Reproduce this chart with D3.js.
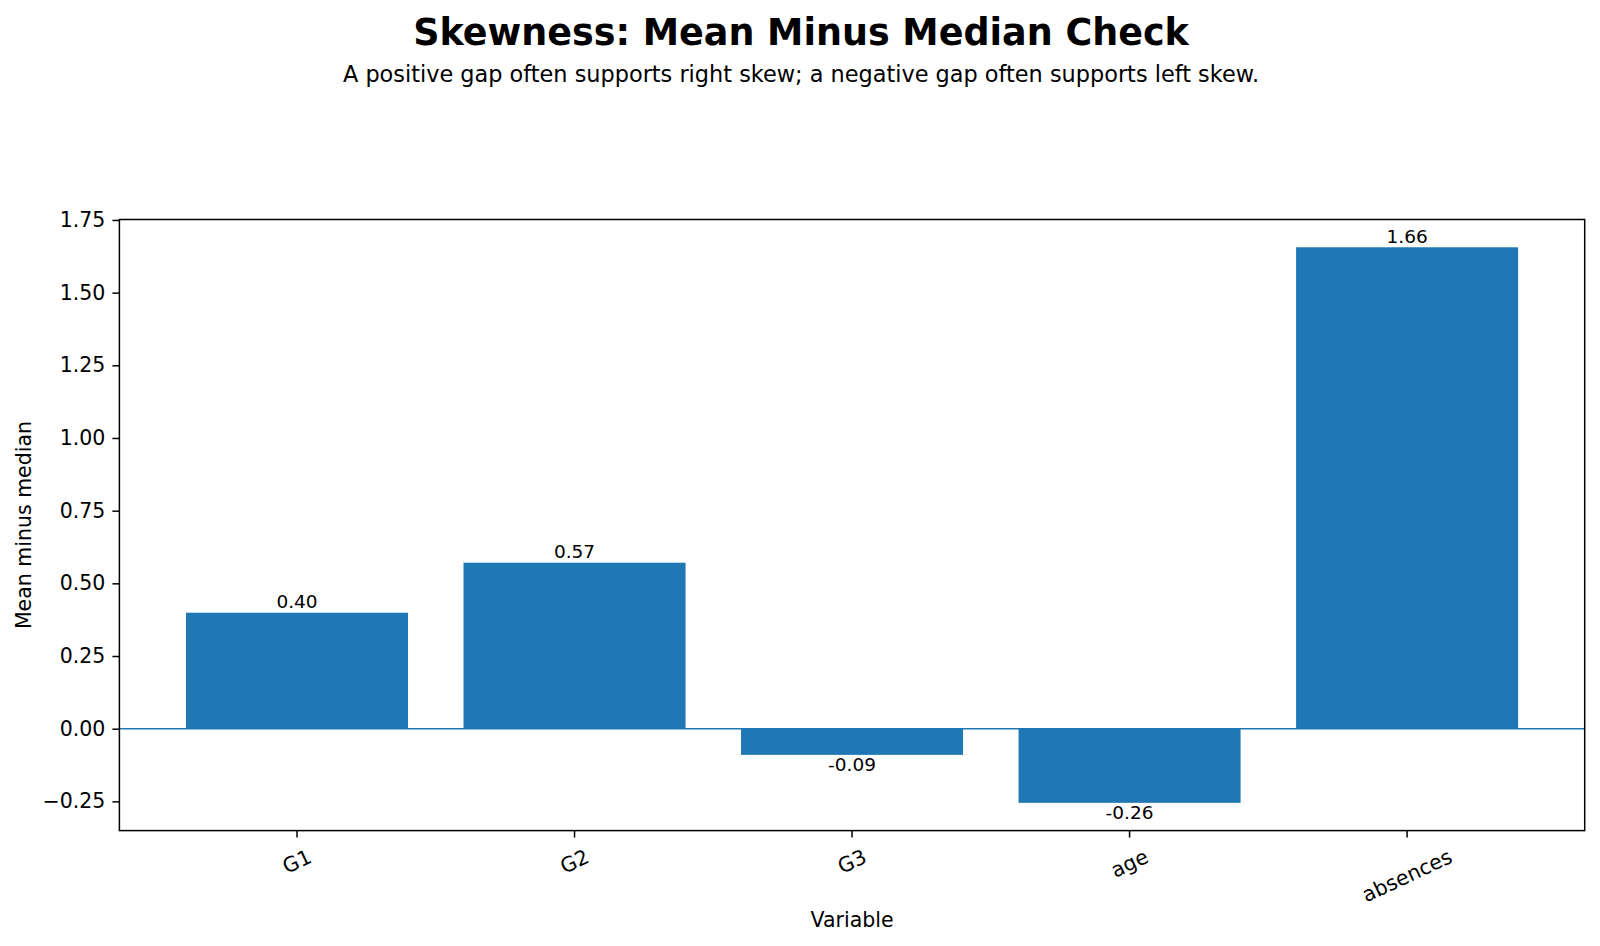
<!DOCTYPE html>
<html>
<head>
<meta charset="utf-8">
<script src="https://cdn.jsdelivr.net/npm/d3@7"></script>
<style>
  body { margin: 0; background: #fff; }
  text { font-family: "DejaVu Sans", sans-serif; fill: #000; }
</style>
</head>
<body>
<div id="chart"></div>
<script>
// data
let variables = ["G1", "G2", "G3", "age", "absences"]
let gaps = [0.399, 0.571, -0.090, -0.255, 1.656]
let yTicks = [-0.25, 0, 0.25, 0.5, 0.75, 1.0, 1.25, 1.5, 1.75]

let width = 1600,
  height = 946
let margin = { top: 219.5, right: 15.3, bottom: 115.4, left: 119.4 }
let iw = width - margin.left - margin.right,
  ih = height - margin.top - margin.bottom

let svg = d3.select("#chart").append("svg")
  .attr("width", width)
  .attr("height", height)

svg.append("text")
  .attr("x", width / 2 + 1).attr("y", 44.5)
  .attr("text-anchor", "middle")
  .style("font-size", "36.5px").style("font-weight", "bold")
  .text("Skewness: Mean Minus Median Check")

svg.append("text")
  .attr("x", width / 2 + 1).attr("y", 82)
  .attr("text-anchor", "middle")
  .style("font-size", "22.4px")
  .text("A positive gap often supports right skew; a negative gap often supports left skew.")

let g = svg.append("g").attr("transform", `translate(${margin.left},${margin.top})`)

// matplotlib-like 5% margins on the y data range
let lo = Math.min(0, d3.min(gaps)), hi = Math.max(0, d3.max(gaps))
let pad = (hi - lo) * 0.05

let x = d3.scaleBand()
  .domain(variables)
  .range([0, iw])
  .paddingInner(0.2)
  .paddingOuter(0.24)

let y = d3.scaleLinear()
  .domain([lo - pad, hi + pad])
  .range([ih, 0])

// bars
g.selectAll("rect.bar")
  .data(gaps)
  .enter().append("rect")
  .attr("class", "bar")
  .attr("x", (d, i) => x(variables[i]))
  .attr("width", x.bandwidth())
  .attr("y", d => y(Math.max(0, d)))
  .attr("height", d => Math.abs(y(d) - y(0)))
  .style("fill", "#1f77b4")

// zero line
g.append("line")
  .attr("x1", 0).attr("x2", iw)
  .attr("y1", y(0)).attr("y2", y(0))
  .style("stroke", "#1f77b4")
  .style("stroke-width", 1.4)

// value labels
g.selectAll("text.val")
  .data(gaps)
  .enter().append("text")
  .attr("class", "val")
  .attr("x", (d, i) => x(variables[i]) + x.bandwidth() / 2)
  .attr("y", d => d >= 0 ? y(d) - 4.5 : y(d) + 16.5)
  .attr("text-anchor", "middle")
  .style("font-size", "18.5px")
  .text(d => d.toFixed(2))

// y axis
let yAxis = g.append("g")
  .call(d3.axisLeft(y).tickValues(yTicks).tickFormat(d3.format(".2f")).tickSize(7).tickPadding(7))
yAxis.select(".domain").remove()
yAxis.selectAll(".tick line").style("stroke", "#000").style("stroke-width", 1.5)
yAxis.selectAll(".tick text").style("font-size", "20.5px").style("font-family", "DejaVu Sans")

// x axis
let xAxis = g.append("g")
  .attr("transform", `translate(0,${ih})`)
  .call(d3.axisBottom(x).tickSize(7).tickFormat(""))
xAxis.select(".domain").remove()
xAxis.selectAll(".tick line").style("stroke", "#000").style("stroke-width", 1.5)

let angle = 25 * Math.PI / 180
let labelTop = ih + 14
variables.forEach(function (v) {
  let t = g.append("text")
    .attr("text-anchor", "middle")
    .attr("dominant-baseline", "central")
    .style("font-size", "20.5px")
    .text(v)
  let w = t.node().getComputedTextLength()
  let h = 20.5 * 1.164
  let bh = w * Math.sin(angle) + h * Math.cos(angle)
  let cx = x(v) + x.bandwidth() / 2,
    cy = labelTop + bh / 2
  t.attr("transform", `translate(${cx},${cy}) rotate(-25)`)
})

// frame
g.append("rect")
  .attr("width", iw).attr("height", ih)
  .style("fill", "none")
  .style("stroke", "#000")
  .style("stroke-width", 1.5)

// axis labels
svg.append("text")
  .attr("x", margin.left + iw / 2).attr("y", 927)
  .attr("text-anchor", "middle")
  .style("font-size", "20.5px")
  .text("Variable")

svg.append("text")
  .attr("transform", `translate(31,${margin.top + ih / 2}) rotate(-90)`)
  .attr("text-anchor", "middle")
  .style("font-size", "20.5px")
  .text("Mean minus median")
</script>
</body>
</html>
